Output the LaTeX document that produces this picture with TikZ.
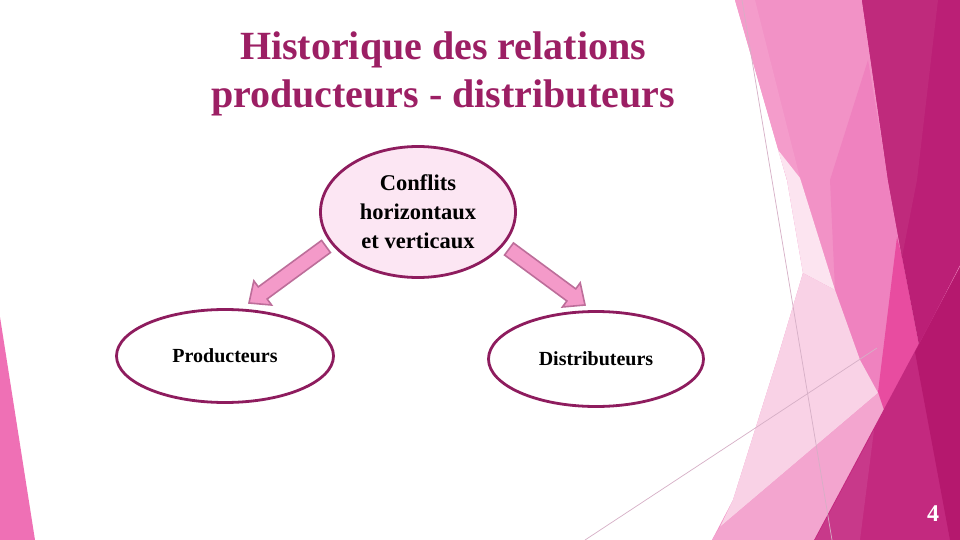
\documentclass[tikz,border=0pt]{standalone}
\usepackage{fontspec}
\setmainfont{Liberation Serif}
\usetikzlibrary{shapes.geometric,calc}
\definecolor{cTitle}{HTML}{9C1F64}
\definecolor{cBorder}{HTML}{8E1C5E}
\definecolor{cTopFill}{HTML}{FCE6F3}
\definecolor{cArrow}{HTML}{F49AC9}
\definecolor{cArrowB}{HTML}{BD6E9A}
\definecolor{cPink}{HTML}{F292C6}
\definecolor{cPinkL}{HTML}{F49CCB}
\definecolor{cPinkD}{HTML}{EF82BF}
\definecolor{cPale}{HTML}{F9D2E6}
\definecolor{cVPale}{HTML}{FCE4F0}
\definecolor{cLow}{HTML}{F3A5CF}
\definecolor{cHot}{HTML}{E84CA0}
\definecolor{cDark}{HTML}{BB1F76}
\definecolor{cDarkL}{HTML}{BF2A7C}
\definecolor{cDeep}{HTML}{C3297F}
\definecolor{cWedge}{HTML}{C8398A}
\definecolor{cDeepest}{HTML}{B5186E}
\definecolor{cLeft}{HTML}{EF70B5}
\definecolor{cThin}{HTML}{D6AFC6}
\tikzset{
  bubble/.style={ellipse, draw=cBorder, line width=2.8pt, inner sep=0pt,
    font=\bfseries\fontsize{20}{24}\selectfont, text=black, align=center},
  blockarr/.style={fill=cArrow, draw=cArrowB, line width=1.6pt, line join=miter},
  thinline/.style={draw=cThin, line width=0.7pt},
}
\newcommand\blkarrow[3]{%
  \coordinate (#3h) at ($(#2)!17pt!(#1)$);
  \draw[blockarr] ($(#1)!7.5pt!90:(#2)$) -- ($(#3h)!7.5pt!90:(#2)$) --
    ($(#3h)!15pt!90:(#2)$) -- (#2) -- ($(#3h)!15pt!-90:(#2)$) --
    ($(#3h)!7.5pt!-90:(#2)$) -- ($(#1)!7.5pt!-90:(#2)$) -- cycle;
}
\begin{document}
\begin{tikzpicture}[x=1pt,y=-1pt]
\useasboundingbox (0,0) rectangle (960,540);
\fill[white] (0,0) rectangle (960,540);

% left decoration
\fill[cLeft] (0,317) -- (35,540) -- (0,540) -- cycle;

% right facets
\fill[cPink] (735,0) -- (960,0) -- (960,540)
  -- (712,540) -- (733,500) -- (777,360) -- (803,273) -- (787,180) -- cycle;
\fill[cPinkL] (735,0) -- (755,0) -- (800,178) -- (787,180) -- cycle;
\fill[cPinkD] (868,60) -- (888,180) -- (902,257) -- (878,392) -- (860,360) -- (835,290) -- (830,180) -- cycle;
\fill[cVPale] (778,150) -- (800,178) -- (835,290) -- (803,273) -- (787,180) -- cycle;
\fill[cPale] (803,273) -- (777,360) -- (733,500) -- (720,527) -- (878,393) -- (860,360) -- (835,290) -- cycle;
\fill[cLow] (878,393) -- (720,527) -- (712,540) -- (815,540) -- (874,430) -- (884,410) -- cycle;
\fill[cHot] (897,237) -- (902,257) -- (919,345) -- (884,410) -- (878,392) -- cycle;
\fill[cDark] (862,0) -- (960,0) -- (960,265) -- (919,345) -- (902,257) -- (888,180) -- cycle;
\fill[cDarkL] (862,0) -- (938,0) -- (917,180) -- (902,257) -- (888,180) -- cycle;
\fill[cDeep] (962,263) -- (962,542) -- (813,542) -- cycle;
\fill[cWedge] (874,430) -- (860,540) -- (815,540) -- cycle;
\fill[cDeepest] (960,267) -- (960,540) -- (950,540) -- (915,352) -- cycle;

\coordinate (ta) at (742,0);
\coordinate (tb) at (832,540);
\coordinate (tc) at (585,540);
\coordinate (td) at (877,348);
\draw[thinline] (ta) -- (tb);
\draw[thinline] (tc) -- (td);

% title
\node[text=cTitle, font=\bfseries\fontsize{40}{48}\selectfont, align=center] (title) at (443,74)
  {Historique des relations\\producteurs - distributeurs};

% ellipses
\node[bubble, fill=cTopFill, minimum width=195pt, minimum height=131pt,
  font=\bfseries\fontsize{22.5}{29}\selectfont] (conf) at (418,212)
  {Conflits\\horizontaux\\et verticaux};
\node[bubble, fill=white, minimum width=217pt, minimum height=93pt] (prod) at (225,356) {Producteurs};
\node[bubble, fill=white, minimum width=215pt, minimum height=95pt] (dist) at (596,359) {Distributeurs};

% arrows
\coordinate (la) at (326,246.5);
\coordinate (lb) at (249,303);
\coordinate (ra) at (509,249);
\coordinate (rb) at (585,305);
\blkarrow{la}{lb}{L}
\blkarrow{ra}{rb}{R}

% page number
\node[text=white, font=\bfseries\fontsize{24}{28}\selectfont] (num) at (933,514) {4};
\end{tikzpicture}
\end{document}
